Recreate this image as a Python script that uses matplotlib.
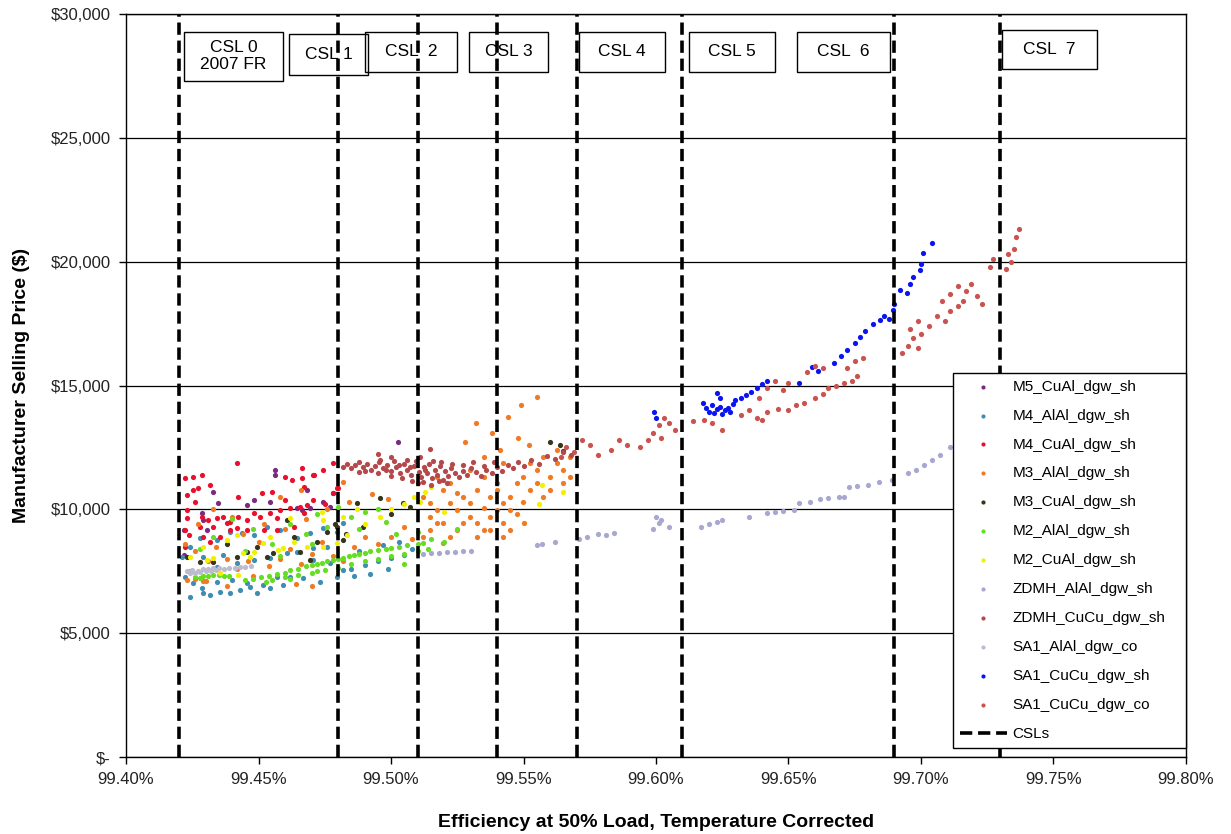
import matplotlib
matplotlib.use('Agg')
import matplotlib.pyplot as plt
from matplotlib.patches import Rectangle
from matplotlib.ticker import FuncFormatter, MultipleLocator

# eficiencia (%) e preco ($) de cada familia de projeto
m5_cual_x = [99.4330, 99.4348, 99.4563, 99.4563, 99.4682, 99.4481, 99.4544, 99.4695, 99.4292, 99.4745,
             99.4663, 99.4286, 99.4304, 99.4217, 99.4456, 99.4770, 99.4644, 99.4217, 99.5028]
m5_cual_y = [10714, 10243, 11590, 11387, 10781, 10378, 10310, 10041, 9570, 10310,
             9974, 9839, 9166, 9166, 10176, 10108, 10041, 8157, 12732]

m4_alal_x = [99.4242, 99.4292, 99.4317, 99.4355, 99.4393, 99.4430, 99.4468, 99.4493, 99.4544, 99.4594,
             99.4223, 99.4254, 99.4286, 99.4342, 99.4399, 99.4456, 99.4518, 99.4569, 99.4619, 99.4669,
             99.4732, 99.4795, 99.4418, 99.4481, 99.4544, 99.4606, 99.4707, 99.4770, 99.4820, 99.4210,
             99.4242, 99.4280, 99.4342, 99.4393, 99.4437, 99.4481, 99.4531, 99.4581, 99.4644, 99.4695,
             99.4745, 99.4795, 99.4820, 99.4757, 99.4707, 99.4644, 99.4292, 99.4367, 99.4342, 99.4850,
             99.4900, 99.4950, 99.5000, 99.5050, 99.4880, 99.4970, 99.5030, 99.4920, 99.4860, 99.4990,
             99.5080]
m4_alal_y = [6474, 6609, 6541, 6676, 6609, 6743, 6878, 6609, 6811, 6945,
             7282, 7013, 6811, 7080, 7147, 7013, 6945, 7282, 7282, 7215,
             7080, 7282, 7820, 7955, 8022, 8224, 7955, 7820, 7551, 8089,
             8493, 8830, 8762, 9099, 9032, 8964, 9301, 9166, 8830, 9032,
             9234, 9099, 9435, 8493, 8426, 8291, 8089, 8157, 7686, 7600,
             7750, 7900, 8050, 8150, 8300, 8550, 8700, 7400, 7300, 7600,
             8400]

m4_cual_x = [99.4223, 99.4254, 99.4286, 99.4229, 99.4254, 99.4273, 99.4260, 99.4317, 99.4418, 99.4424,
             99.4512, 99.4550, 99.4600, 99.4625, 99.4663, 99.4707, 99.4745, 99.4782, 99.4795, 99.4782,
             99.4707, 99.4663, 99.4670, 99.4600, 99.4229, 99.4229, 99.4286, 99.4311, 99.4342, 99.4367,
             99.4393, 99.4424, 99.4456, 99.4481, 99.4506, 99.4544, 99.4569, 99.4581, 99.4619, 99.4657,
             99.4682, 99.4670, 99.4223, 99.4280, 99.4330, 99.4380, 99.4418, 99.4456, 99.4519, 99.4569,
             99.4632, 99.4236, 99.4223, 99.4292, 99.4317, 99.4355, 99.4393, 99.4710, 99.4750, 99.4800,
             99.4780]
m4_cual_y = [11253, 11320, 11387, 10580, 10781, 10849, 10310, 10983, 11860, 10512,
             10647, 10714, 11320, 11185, 11657, 11387, 11590, 11860, 10849, 10647,
             10378, 11253, 10916, 10378, 9974, 9637, 9705, 9570, 9637, 9705,
             9503, 9705, 9570, 9839, 9705, 9839, 9637, 9974, 10041, 10108,
             10176, 9839, 9166, 9301, 9301, 9435, 9234, 9166, 9166, 9166,
             9301, 8964, 8493, 8897, 8695, 8897, 9166, 11390, 10200, 10860,
             10660]

m3_alal_x = [99.5122, 99.5147, 99.5172, 99.5147, 99.5198, 99.5223, 99.5198, 99.5248, 99.5273, 99.5248,
             99.5298, 99.5298, 99.5324, 99.5324, 99.5349, 99.5349, 99.5374, 99.5374, 99.5399, 99.5399,
             99.5424, 99.5424, 99.5449, 99.5449, 99.5474, 99.5499, 99.5474, 99.5525, 99.5499, 99.5550,
             99.5550, 99.5575, 99.5600, 99.5600, 99.5625, 99.5650, 99.5650, 99.5675, 99.5675, 99.5525,
             99.5575, 99.5625, 99.5222, 99.5172, 99.5298, 99.5349, 99.5424, 99.5399, 99.5273, 99.5223,
             99.5147, 99.5122, 99.5198, 99.5172, 99.5248, 99.5324, 99.5374, 99.5449, 99.5500, 99.5424,
             99.5490, 99.5550, 99.5440, 99.5320, 99.5380, 99.5280, 99.5410, 99.5350, 99.5480, 99.5520,
             99.4223, 99.4260, 99.4310, 99.4340, 99.4380, 99.4420, 99.4460, 99.4500, 99.4540, 99.4580,
             99.4620, 99.4660, 99.4700, 99.4740, 99.4780, 99.4820, 99.4860, 99.4900, 99.4950, 99.5000,
             99.5050, 99.5080, 99.4440, 99.4520, 99.4600, 99.4680, 99.4760, 99.4840, 99.4930, 99.4990,
             99.4270, 99.4330, 99.4400, 99.4580, 99.4660, 99.4820, 99.4240, 99.4300, 99.4380, 99.4480,
             99.4640, 99.4700, 99.4230, 99.4260, 99.4290]
m3_alal_y = [10512, 10243, 9974, 9705, 10781, 10243, 9436, 9974, 10512, 9166,
             9705, 10243, 10781, 9436, 10051, 9166, 10512, 9705, 9974, 10781,
             10243, 9436, 10512, 9974, 9800, 10300, 11051, 10781, 11320, 11589,
             11051, 10512, 11320, 10781, 11858, 11051, 11589, 12127, 11320, 11858,
             12127, 12397, 11051, 11320, 11589, 11320, 11858, 11051, 9436, 8897,
             9166, 8897, 8628, 9436, 10651, 8897, 9166, 9166, 9436, 8897,
             14200, 14540, 13730, 13490, 13080, 12700, 12400, 12100, 12900, 12600,
             8600, 8300, 7900, 8500, 8000, 7600, 7900, 8700, 7700, 8000,
             8400, 7800, 8200, 8700, 8100, 7900, 8500, 8900, 8600, 8900,
             9300, 8800, 9000, 9400, 9200, 9600, 10000, 10300, 10600, 10400,
             9400, 10000, 9700, 10500, 10800, 11100, 7500, 7100, 6900, 7300,
             7000, 6900, 7150, 7200, 7120]

m3_cual_x = [99.4493, 99.4531, 99.4456, 99.4418, 99.4330, 99.4280, 99.4229, 99.4632, 99.4657, 99.4695,
             99.4757, 99.4795, 99.4820, 99.4556, 99.4606, 99.4870, 99.4958, 99.5046, 99.5070, 99.4896,
             99.4790, 99.4830, 99.5638, 99.5600, 99.5650, 99.4380, 99.4720, 99.5000]
m3_cual_y = [8493, 8089, 8291, 8089, 7888, 7888, 8089, 8897, 8291, 7955,
             9099, 9301, 8762, 8224, 9570, 10245, 10460, 10250, 10110, 9290,
             9420, 9020, 12600, 12730, 12350, 8600, 8700, 9800]

m2_alal_x = [99.4450, 99.4480, 99.4510, 99.4540, 99.4570, 99.4600, 99.4620, 99.4650, 99.4680, 99.4700,
             99.4720, 99.4740, 99.4760, 99.4780, 99.4800, 99.4820, 99.4840, 99.4860, 99.4880, 99.4900,
             99.4920, 99.4950, 99.4980, 99.5000, 99.5030, 99.5060, 99.5100, 99.5120, 99.4550, 99.4600,
             99.4650, 99.4700, 99.4750, 99.4800, 99.4850, 99.4900, 99.4950, 99.5000, 99.5050, 99.5100,
             99.5140, 99.4530, 99.4620, 99.4720, 99.4290, 99.4310, 99.4330, 99.4350, 99.4370, 99.4390,
             99.4260, 99.4280, 99.4330, 99.4400, 99.4480, 99.4550, 99.4620, 99.4680, 99.4720, 99.4760,
             99.4800, 99.4850, 99.4880, 99.4900, 99.4950, 99.4980, 99.5020, 99.5100, 99.5150, 99.5200,
             99.4280, 99.4450, 99.4580, 99.4700, 99.5050, 99.5250]
m2_alal_y = [7150, 7200, 7250, 7300, 7400, 7450, 7550, 7600, 7700, 7750,
             7800, 7850, 7900, 7950, 8000, 8050, 8100, 8150, 8200, 8250,
             8300, 8350, 8400, 8450, 8500, 8550, 8600, 8650, 7150, 7250,
             7350, 7450, 7550, 7650, 7800, 7900, 8000, 8100, 8200, 8300,
             8400, 7080, 7200, 7500, 7300, 7320, 7340, 7330, 7310, 7300,
             7250, 7220, 8900, 9600, 9200, 8600, 9400, 9000, 9800, 9300,
             10100, 9700, 9200, 9900, 10000, 9500, 9000, 9100, 8800, 8700,
             8400, 8300, 8100, 8600, 7800, 9200]

m2_cual_x = [99.4330, 99.4304, 99.4443, 99.4468, 99.4594, 99.4632, 99.4682, 99.4745, 99.4795, 99.4833,
             99.4418, 99.4380, 99.4355, 99.4424, 99.4518, 99.4544, 99.4575, 99.4739, 99.4745, 99.4820,
             99.4619, 99.4481, 99.4292, 99.4242, 99.5085, 99.5110, 99.5130, 99.5050, 99.5000, 99.4960,
             99.4900, 99.4870, 99.5150, 99.5200, 99.5560, 99.5650, 99.5570]
m2_cual_y = [8022, 7955, 8224, 8089, 8426, 8695, 8493, 8493, 8628, 8964,
             8964, 8762, 7417, 7349, 8628, 8897, 8359, 9907, 9570, 9705,
             9637, 8291, 8493, 8089, 10500, 10300, 10700, 10200, 10000, 9700,
             9400, 10000, 10900, 9900, 10200, 10700, 11000]

zdmh_alal_x = [99.5120, 99.5150, 99.5180, 99.5210, 99.5240, 99.5270, 99.5300, 99.5550, 99.5570, 99.5620,
               99.5710, 99.5740, 99.5780, 99.5810, 99.5840, 99.5990, 99.6010, 99.6020, 99.6000, 99.6050,
               99.6170, 99.6200, 99.6230, 99.6250, 99.6350, 99.6420, 99.6450, 99.6480, 99.6520, 99.6540,
               99.6580, 99.6620, 99.6650, 99.6690, 99.6710, 99.6730, 99.6760, 99.6800, 99.6840, 99.6890,
               99.6950, 99.6980, 99.7010, 99.7040, 99.7070, 99.7110, 99.7150, 99.7200, 99.7250]
zdmh_alal_y = [8200, 8230, 8250, 8270, 8290, 8300, 8330, 8550, 8600, 8700,
               8800, 8900, 9000, 8950, 9050, 9200, 9450, 9570, 9690, 9300,
               9290, 9400, 9500, 9570, 9700, 9850, 9900, 9950, 9970, 10260,
               10300, 10400, 10450, 10500, 10500, 10900, 10950, 11000, 11100, 11200,
               11470, 11600, 11800, 12000, 12200, 12500, 12600, 12800, 13000]

zdmh_cucu_x = [99.4820, 99.4835, 99.4850, 99.4865, 99.4880, 99.4895, 99.4910, 99.4925, 99.4940, 99.4955,
               99.4970, 99.4985, 99.5000, 99.5010, 99.5020, 99.5035, 99.5050, 99.5060, 99.5075, 99.5085,
               99.5095, 99.5105, 99.5115, 99.5125, 99.5135, 99.5145, 99.5155, 99.5165, 99.5175, 99.5185,
               99.5195, 99.5205, 99.5215, 99.5225, 99.5240, 99.5255, 99.5270, 99.5285, 99.5300, 99.5320,
               99.5340, 99.5360, 99.5380, 99.5400, 99.5420, 99.5440, 99.5460, 99.5480, 99.5500, 99.5530,
               99.5560, 99.5590, 99.5620, 99.5650, 99.5680, 99.4900, 99.4950, 99.5000, 99.5040, 99.5080,
               99.5100, 99.5120, 99.5150, 99.5180, 99.5210, 99.5060, 99.5110, 99.5160, 99.5000, 99.4960,
               99.4880, 99.5147, 99.4950, 99.5070, 99.5130, 99.5030, 99.4980, 99.5190, 99.5230, 99.5270,
               99.5310, 99.5350, 99.5390]
zdmh_cucu_y = [11700, 11850, 11650, 11800, 11900, 11700, 11850, 11600, 11750, 11900,
               11650, 11800, 11550, 11950, 11700, 11450, 11850, 11600, 11400, 11750,
               11950, 11500, 11300, 11700, 11450, 11850, 11250, 11600, 11400, 11750,
               11200, 11550, 11350, 11650, 11450, 11300, 11550, 11400, 11650, 11500,
               11350, 11600, 11450, 11700, 11550, 11800, 11650, 11900, 11750, 12000,
               11850, 12150, 12050, 12300, 12200, 11550, 11450, 11350, 11250, 11150,
               11050, 11100, 11000, 11150, 11050, 12000, 12100, 11950, 12100, 12000,
               11500, 12450, 12250, 11700, 11600, 11800, 11600, 11900, 11850, 11800,
               11900, 11750, 11900]

sa1_alal_co_x = [99.4230, 99.4250, 99.4270, 99.4290, 99.4310, 99.4330, 99.4350, 99.4370, 99.4390, 99.4410,
                 99.4430, 99.4450, 99.4470, 99.4240, 99.4260, 99.4280, 99.4300, 99.4320, 99.4340]
sa1_alal_co_y = [7500, 7550, 7520, 7600, 7580, 7620, 7640, 7600, 7650, 7620,
                 7680, 7660, 7700, 7420, 7450, 7480, 7500, 7530, 7550]

sa1_cucu_sh_x = [99.5992, 99.6000, 99.6177, 99.6190, 99.6200, 99.6210, 99.6220, 99.6230, 99.6240, 99.6250,
                 99.6260, 99.6270, 99.6280, 99.6290, 99.6230, 99.6240, 99.6300, 99.6320, 99.6340, 99.6360,
                 99.6380, 99.6400, 99.6420, 99.6540, 99.6590, 99.6610, 99.6670, 99.6700, 99.6720, 99.6750,
                 99.6770, 99.6790, 99.6820, 99.6845, 99.6860, 99.6880, 99.6894, 99.6900, 99.6920, 99.6947,
                 99.6960, 99.6970, 99.6996, 99.7000, 99.7008, 99.7040]
sa1_cucu_sh_y = [13930, 13700, 14290, 14100, 13950, 14200, 13900, 14050, 14150, 13850,
                 14000, 14100, 13950, 14250, 14700, 14500, 14400, 14500, 14600, 14750,
                 14900, 15050, 15200, 15100, 15750, 15600, 15900, 16200, 16430, 16700,
                 16960, 17200, 17500, 17650, 17800, 17700, 18050, 18300, 18860, 18740,
                 19100, 19380, 19670, 19900, 20350, 20750]

sa1_cucu_co_x = [99.5640, 99.5660, 99.5690, 99.5720, 99.5750, 99.5780, 99.5830, 99.5860, 99.5890, 99.5940,
                 99.5970, 99.5990, 99.6010, 99.6030, 99.6050, 99.6070, 99.6020, 99.6140, 99.6180, 99.6210,
                 99.6250, 99.6320, 99.6350, 99.6380, 99.6400, 99.6390, 99.6420, 99.6450, 99.6480, 99.6500,
                 99.6420, 99.6460, 99.6500, 99.6530, 99.6560, 99.6600, 99.6630, 99.6570, 99.6600, 99.6630,
                 99.6650, 99.6680, 99.6710, 99.6740, 99.6760, 99.6720, 99.6750, 99.6780, 99.6930, 99.6950,
                 99.6970, 99.6990, 99.7000, 99.6960, 99.6990, 99.7030, 99.7060, 99.7090, 99.7110, 99.7140,
                 99.7080, 99.7110, 99.7140, 99.7170, 99.7190, 99.7210, 99.7230, 99.7160, 99.7260, 99.7270,
                 99.7320, 99.7340, 99.7350, 99.7360, 99.7370, 99.7330]
sa1_cucu_co_y = [12100, 12500, 12300, 12800, 12600, 12200, 12400, 12800, 12600, 12500,
                 12800, 13100, 13400, 13700, 13500, 13200, 12900, 13550, 13600, 13500,
                 13200, 13800, 14000, 13700, 13600, 14500, 14900, 15200, 14800, 15100,
                 13950, 14050, 14000, 14200, 14300, 14500, 14650, 15550, 15800, 15700,
                 14900, 15000, 15100, 15200, 15400, 15700, 16000, 16100, 16300, 16600,
                 16900, 16500, 17100, 17300, 17600, 17400, 17800, 17600, 18000, 18200,
                 18400, 18700, 19000, 18800, 19100, 18600, 18300, 18400, 19800, 20100,
                 19700, 20000, 20500, 21000, 21300, 20300]

series = [
    ('M5_CuAl_dgw_sh', m5_cual_x, m5_cual_y, '#7b2a80'),
    ('M4_AlAl_dgw_sh', m4_alal_x, m4_alal_y, '#3f8db3'),
    ('M4_CuAl_dgw_sh', m4_cual_x, m4_cual_y, '#e8102c'),
    ('M3_AlAl_dgw_sh', m3_alal_x, m3_alal_y, '#f07a24'),
    ('M3_CuAl_dgw_sh', m3_cual_x, m3_cual_y, '#35351c'),
    ('M2_AlAl_dgw_sh', m2_alal_x, m2_alal_y, '#66dd22'),
    ('M2_CuAl_dgw_sh', m2_cual_x, m2_cual_y, '#f0f000'),
    ('ZDMH_AlAl_dgw_sh', zdmh_alal_x, zdmh_alal_y, '#a7a7cf'),
    ('ZDMH_CuCu_dgw_sh', zdmh_cucu_x, zdmh_cucu_y, '#b4484a'),
    ('SA1_AlAl_dgw_co', sa1_alal_co_x, sa1_alal_co_y, '#bcbccf'),
    ('SA1_CuCu_dgw_sh', sa1_cucu_sh_x, sa1_cucu_sh_y, '#0a14f0'),
    ('SA1_CuCu_dgw_co', sa1_cucu_co_x, sa1_cucu_co_y, '#c9534f'),
]

# niveis de eficiencia (CSL) e caixas de rotulo
csl_eff = [99.42, 99.48, 99.51, 99.54, 99.57, 99.61, 99.69, 99.73]
csl_labels = ['CSL 0\n2007 FR', 'CSL 1', 'CSL  2', 'CSL 3', 'CSL 4', 'CSL 5', 'CSL  6', 'CSL  7']
box_left = [99.4219, 99.4615, 99.4902, 99.5294, 99.5709, 99.6125, 99.6532, 99.7306]
box_right = [99.4593, 99.4913, 99.5249, 99.5593, 99.6034, 99.6449, 99.6883, 99.7664]
box_bottom = [27300, 27540, 27660, 27660, 27660, 27660, 27660, 27780]
box_top = [29280, 29200, 29280, 29280, 29280, 29280, 29280, 29360]

sans = ['Liberation Sans', 'DejaVu Sans']
narrow = ['Liberation Sans Narrow', 'Liberation Sans', 'DejaVu Sans']

fig = plt.figure(figsize=(12.31, 8.34), dpi=100)
ax = fig.add_axes([0.1024, 0.0923, 0.8610, 0.8909])

for nome, xs, ys, cor in series:
    ax.scatter(xs, ys, s=14, color=cor, linewidths=0, label=nome, zorder=2)

for i, e in enumerate(csl_eff):
    ax.axvline(e, color='black', lw=2.6, linestyle=(0, (3.4, 1.6)), zorder=4,
               label='CSLs' if i == 0 else None)

for i in range(len(csl_labels)):
    ax.add_patch(Rectangle((box_left[i], box_bottom[i]), box_right[i] - box_left[i],
                           box_top[i] - box_bottom[i], fill=False, edgecolor='black',
                           lw=1.0, zorder=3))
    ax.text((box_left[i] + box_right[i]) / 2, (box_bottom[i] + box_top[i]) / 2, csl_labels[i],
            ha='center', va='center', fontsize=12.5, family=sans, linespacing=1.15, zorder=5)

ax.set_xlim(99.40, 99.80)
ax.set_ylim(0, 30000)
ax.xaxis.set_major_locator(MultipleLocator(0.05))
ax.yaxis.set_major_locator(MultipleLocator(5000))
ax.xaxis.set_major_formatter(FuncFormatter(lambda v, p: f'{v:.2f}%'))
ax.yaxis.set_major_formatter(FuncFormatter(lambda v, p: '$-' if v == 0 else f'${v:,.0f}'))
ax.grid(axis='y', color='black', lw=0.9, zorder=1)
ax.set_axisbelow(True)

for s in ax.spines.values():
    s.set_color('black')
    s.set_linewidth(1.0)

ax.tick_params(axis='both', direction='out', length=5, width=1, color='black',
               labelsize=12, labelcolor='#222222', pad=6)
for t in ax.get_xticklabels() + ax.get_yticklabels():
    t.set_family(sans)

ax.set_xlabel('Efficiency at 50% Load, Temperature Corrected', fontsize=14,
              fontweight='bold', family=narrow, labelpad=19)
ax.set_ylabel('Manufacturer Selling Price ($)', fontsize=14, fontweight='bold',
              family=narrow, labelpad=15)

leg = ax.legend(loc='lower left', bbox_to_anchor=(0.780, 0.012, 0.220, 0.505), mode='expand',
                frameon=True, fancybox=False, edgecolor='black', framealpha=1,
                prop={'family': sans, 'size': 11}, labelspacing=0.98, handlelength=3.1,
                handletextpad=0.35, borderpad=0.45, markerscale=0.8, borderaxespad=0)
leg.get_frame().set_linewidth(1.0)
leg.set_zorder(6)

plt.savefig('out.png', dpi=100)
